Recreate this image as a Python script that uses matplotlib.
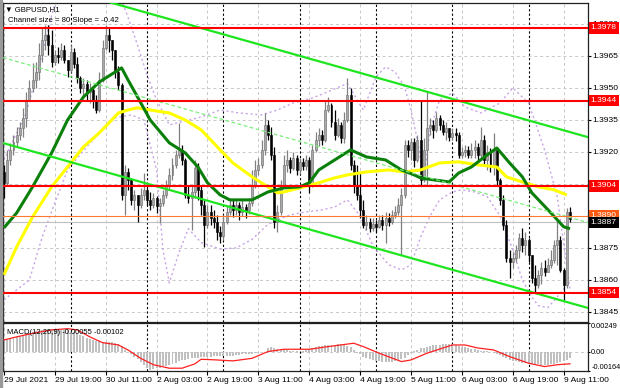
import numpy as np
import matplotlib
matplotlib.use("Agg")
from matplotlib import pyplot as plt
from matplotlib.patches import Rectangle

# ---- data ----
symbol = "GBPUSD,H1"
channel_size = 80          # pips
channel_slope = -0.42      # pips per bar
channel_mid0 = 1.39640     # middle line at the first bar

levels_red = [1.3978, 1.3944, 1.3904, 1.3854]
level_orange = 1.3890
bid = 1.3887

first_open = 1.39106
closes = [
    1.39055, 1.39162, 1.39209, 1.39246, 1.39279, 1.39312, 1.39359, 1.39443, 1.39499, 1.39537,
    1.39574, 1.39654, 1.39724, 1.39747, 1.39700, 1.39621, 1.39654, 1.39644, 1.39677, 1.39630,
    1.39583, 1.39668, 1.39612, 1.39546, 1.39499, 1.39518, 1.39480, 1.39490, 1.39443, 1.39396,
    1.39537, 1.39686, 1.39747, 1.39724, 1.39677, 1.39574, 1.39513, 1.38998, 1.39106, 1.39069,
    1.38975, 1.38998, 1.38952, 1.38998, 1.39022, 1.38975, 1.38952, 1.38984, 1.38947, 1.38961,
    1.38998, 1.39045, 1.39092, 1.39139, 1.39186, 1.39209, 1.39162, 1.38998, 1.38984, 1.39012,
    1.39125, 1.39022, 1.38952, 1.38858, 1.38919, 1.38891, 1.38872, 1.38825, 1.38807, 1.38872,
    1.38919, 1.38952, 1.38928, 1.38952, 1.38919, 1.38942, 1.38928, 1.38961, 1.39045, 1.39115,
    1.39139, 1.39209, 1.39326, 1.39279, 1.39186, 1.38872, 1.38919, 1.39045, 1.39139, 1.39162,
    1.39125, 1.39172, 1.39115, 1.39153, 1.39134, 1.39162, 1.39045, 1.39209, 1.39256, 1.39279,
    1.39256, 1.39396, 1.39420, 1.39340, 1.39279, 1.39326, 1.39265, 1.39349, 1.39466, 1.39139,
    1.39045, 1.38998, 1.38928, 1.38858, 1.38872, 1.38844, 1.38863, 1.38849, 1.38881, 1.38858,
    1.38891, 1.38872, 1.38905, 1.38919, 1.38952, 1.38998, 1.39232, 1.39209, 1.39246, 1.39162,
    1.39256, 1.39069, 1.39209, 1.39312, 1.39326, 1.39303, 1.39359, 1.39326, 1.39293, 1.39312,
    1.39270, 1.39289, 1.39279, 1.39186, 1.39200, 1.39209, 1.39186, 1.39209, 1.39223, 1.39186,
    1.39256, 1.39162, 1.39200, 1.39139, 1.39209, 1.39069, 1.38975, 1.38858, 1.38704, 1.38685,
    1.38704, 1.38741, 1.38797, 1.38764, 1.38788, 1.38718, 1.38610, 1.38577, 1.38624, 1.38657,
    1.38638, 1.38671, 1.38694, 1.38764, 1.38788, 1.38647, 1.38577, 1.38919, 1.38886,
]
highs = [
    1.39139, 1.39209, 1.39242, 1.39279, 1.39317, 1.39340, 1.39406, 1.39480, 1.39537, 1.39616,
    1.39621, 1.39710, 1.39780, 1.39794, 1.39794, 1.39771, 1.39677, 1.39691, 1.39710, 1.39700,
    1.39621, 1.39700, 1.39686, 1.39644, 1.39555, 1.39546, 1.39537, 1.39523, 1.39499, 1.39466,
    1.39574, 1.39724, 1.39794, 1.39785, 1.39714, 1.39677, 1.39602, 1.39523, 1.39139, 1.39125,
    1.39078, 1.39022, 1.38998, 1.39031, 1.39101, 1.39031, 1.39012, 1.39008, 1.38994, 1.38984,
    1.39022, 1.39069, 1.39125, 1.39172, 1.39209, 1.39335, 1.39232, 1.39172, 1.39045, 1.39045,
    1.39162, 1.39148, 1.39045, 1.38975, 1.38952, 1.38952, 1.38928, 1.38905, 1.38853, 1.38905,
    1.38952, 1.38984, 1.38975, 1.38975, 1.38966, 1.38975, 1.38956, 1.38984, 1.39115, 1.39162,
    1.39172, 1.39256, 1.39382, 1.39349, 1.39317, 1.39223, 1.38952, 1.39069, 1.39186, 1.39209,
    1.39176, 1.39200, 1.39186, 1.39172, 1.39172, 1.39186, 1.39176, 1.39232, 1.39293, 1.39312,
    1.39303, 1.39443, 1.39457, 1.39429, 1.39396, 1.39359, 1.39340, 1.39387, 1.39546, 1.39499,
    1.39162, 1.39139, 1.39106, 1.38975, 1.38905, 1.38891, 1.38891, 1.38881, 1.38905, 1.38905,
    1.38919, 1.38914, 1.38928, 1.38947, 1.38984, 1.39031, 1.39256, 1.39256, 1.39265, 1.39265,
    1.39279, 1.39443, 1.39265, 1.39480, 1.39359, 1.39349, 1.39387, 1.39373, 1.39349, 1.39340,
    1.39312, 1.39312, 1.39312, 1.39293, 1.39223, 1.39232, 1.39228, 1.39242, 1.39256, 1.39242,
    1.39317, 1.39279, 1.39232, 1.39218, 1.39289, 1.39218, 1.39078, 1.38998, 1.38881, 1.38741,
    1.38732, 1.38764, 1.38821, 1.38844, 1.38825, 1.38797, 1.38718, 1.38671, 1.38647, 1.38685,
    1.38694, 1.38704, 1.38741, 1.38788, 1.38881, 1.38807, 1.38657, 1.38938, 1.38942,
]
lows = [
    1.38984, 1.39045, 1.39139, 1.39186, 1.39223, 1.39256, 1.39270, 1.39317, 1.39443, 1.39480,
    1.39499, 1.39537, 1.39621, 1.39677, 1.39654, 1.39597, 1.39607, 1.39616, 1.39630, 1.39616,
    1.39551, 1.39574, 1.39593, 1.39523, 1.39476, 1.39457, 1.39443, 1.39429, 1.39406, 1.39382,
    1.39387, 1.39527, 1.39677, 1.39668, 1.39630, 1.39546, 1.39490, 1.38975, 1.38905, 1.39022,
    1.38952, 1.38928, 1.38872, 1.38938, 1.38975, 1.38952, 1.38928, 1.38938, 1.38914, 1.38867,
    1.38947, 1.38984, 1.39022, 1.39069, 1.39125, 1.39172, 1.39139, 1.38984, 1.38961, 1.38835,
    1.38984, 1.38975, 1.38905, 1.38755, 1.38844, 1.38858, 1.38844, 1.38788, 1.38774, 1.38788,
    1.38863, 1.38905, 1.38895, 1.38905, 1.38881, 1.38900, 1.38891, 1.38910, 1.38947, 1.39031,
    1.39092, 1.39125, 1.39186, 1.39256, 1.39162, 1.38844, 1.38825, 1.38905, 1.39031, 1.39106,
    1.39101, 1.39115, 1.39092, 1.39097, 1.39115, 1.39115, 1.39008, 1.39036, 1.39200, 1.39228,
    1.39232, 1.39246, 1.39387, 1.39317, 1.39256, 1.39270, 1.39242, 1.39242, 1.39340, 1.39115,
    1.39008, 1.38975, 1.38891, 1.38844, 1.38835, 1.38825, 1.38830, 1.38825, 1.38844, 1.38835,
    1.38774, 1.38853, 1.38863, 1.38891, 1.38905, 1.38718, 1.38984, 1.39176, 1.39162, 1.39129,
    1.39153, 1.39045, 1.39059, 1.39045, 1.39279, 1.39265, 1.39293, 1.39303, 1.39279, 1.39256,
    1.39251, 1.39256, 1.39251, 1.39172, 1.39172, 1.39176, 1.39172, 1.39172, 1.39172, 1.39153,
    1.39172, 1.39139, 1.39115, 1.39106, 1.39092, 1.39045, 1.38952, 1.38834, 1.38685, 1.38610,
    1.38657, 1.38685, 1.38704, 1.38732, 1.38718, 1.38685, 1.38587, 1.38544, 1.38563, 1.38582,
    1.38619, 1.38647, 1.38657, 1.38680, 1.38671, 1.38638, 1.38507, 1.38563, 1.38872,
]

# moving averages (bar index, price)
ma_green_idx = [0, 4, 9, 15, 20, 25, 30, 35, 37, 39, 42, 46, 52, 57, 61, 64, 68, 71, 74, 78, 83,
                88, 93, 96, 99, 104, 109, 114, 120, 125, 129, 131, 135, 140, 143, 147, 152, 155,
                159, 163, 166, 172, 176, 178]
ma_green_val = [1.38844, 1.38914, 1.39036, 1.39195, 1.39349, 1.39457, 1.39527, 1.39574, 1.39593,
                1.39537, 1.39457, 1.39349, 1.39242, 1.39195, 1.39129, 1.39055, 1.38998, 1.38975,
                1.38975, 1.38975, 1.39012, 1.39031, 1.39036, 1.39055, 1.39115, 1.39162, 1.39209,
                1.39176, 1.39162, 1.39115, 1.39092, 1.39078, 1.39069, 1.39059, 1.39101, 1.39129,
                1.39186, 1.39218, 1.39148, 1.39083, 1.39008, 1.38914, 1.38849, 1.38840]
ma_yellow_idx = [0, 4, 9, 15, 20, 25, 30, 36, 39, 42, 46, 52, 57, 62, 68, 72, 78, 83, 86, 88, 93,
                 99, 104, 108, 114, 121, 126, 131, 137, 143, 149, 155, 158, 163, 168, 173, 177]
ma_yellow_val = [1.38624, 1.38755, 1.38895, 1.39036, 1.39129, 1.39223, 1.39289, 1.39382, 1.39396,
                 1.39406, 1.39396, 1.39382, 1.39349, 1.39303, 1.39209, 1.39148, 1.39083, 1.39036,
                 1.39008, 1.39012, 1.39031, 1.39055, 1.39078, 1.39092, 1.39106, 1.39115, 1.39106,
                 1.39115, 1.39148, 1.39153, 1.39139, 1.39129, 1.39083, 1.39059, 1.39036, 1.39022,
                 1.38998]

# dotted bands (bar index, price)
band_up_idx = [0, 7, 12, 15, 18, 35, 39, 42, 45, 48, 52, 62, 68, 74, 81, 86, 91, 97, 101, 108,
               113, 117, 120, 123, 126, 128, 130, 132, 134, 137, 141, 145, 150, 156, 160, 165,
               170, 174, 178]
band_up_val = [1.39162, 1.39382, 1.39654, 1.39841, 1.39990, 1.39990, 1.39831, 1.39700, 1.39560,
               1.39443, 1.39326, 1.39363, 1.39396, 1.39382, 1.39373, 1.39396, 1.39429, 1.39452,
               1.39476, 1.39520, 1.39396, 1.39551, 1.39598, 1.39574, 1.39504, 1.39396, 1.39256,
               1.39069, 1.39303, 1.39443, 1.39476, 1.39410, 1.39382, 1.39429, 1.39499, 1.39429,
               1.39209, 1.38989, 1.38554]
band_dn_idx = [0, 8, 12, 16, 20, 26, 31, 35, 40, 44, 48, 50, 52, 55, 58, 62, 68, 73, 78, 83, 89,
               93, 100, 104, 108, 112, 116, 121, 125, 128, 131, 134, 137, 141, 144, 148, 152,
               156, 160, 163, 166, 168, 171, 174, 177]
band_dn_val = [1.38507, 1.38600, 1.38800, 1.38961, 1.39115, 1.39223, 1.39303, 1.39359, 1.39373,
               1.39349, 1.39115, 1.38741, 1.38586, 1.38727, 1.38840, 1.38775, 1.38745, 1.38750,
               1.38790, 1.38860, 1.38900, 1.38914, 1.38928, 1.38942, 1.38975, 1.38900, 1.38760,
               1.38671, 1.38647, 1.38671, 1.38800, 1.38900, 1.38975, 1.39012, 1.39022, 1.39012,
               1.38990, 1.38900, 1.38741, 1.38600, 1.38520, 1.38480, 1.38470, 1.38520, 1.38577]

# MACD(12,26,9): histogram per bar and signal line points
macd_hist = [
    103, 110, 117, 124, 132, 140, 148, 157, 166, 175,
    180, 184, 188, 191, 194, 195, 195, 194, 193, 191,
    190, 182, 173, 163, 150, 135, 120, 110, 100, 93,
    90, 89, 89, 88, 88, 75, 65, 55, 17, 0,
    -20, -40, -65, -90, -112, -135, -155, -150, -142, -135,
    -125, -118, -110, -100, -92, -82, -72, -66, -60, -55,
    -50, -48, -46, -44, -42, -40, -37, -34, -33, -32,
    -32, -31, -31, -28, -25, -22, -20, -18, -17, -12,
    -8, -2, 3, 32, 46, 38, 25, 20, 17, 14,
    10, 7, 5, 3, 8, 15, 28, 35, 42, 48,
    52, 56, 60, 62, 64, 65, 66, 66, 55, 40,
    17, -5, -22, -40, -52, -63, -72, -80, -82, -83,
    -84, -84, -83, -78, -70, -60, -55, -30, -5, 8,
    20, 30, 38, 45, 51, 56, 60, 63, 66, 68,
    69, 66, 60, 53, 46, 40, 34, 28, 22, 17,
    12, 7, 5, 3, -8, -18, -26, -40, -55, -69,
    -75, -82, -87, -91, -95, -97, -101, -105, -108, -110,
    -112, -110, -106, -102, -97, -90, -80, -70, -55,
]  # in 1e-5
signal_idx = [0, 4, 9, 15, 20, 23, 27, 31, 36, 39, 43, 47, 52, 56, 60, 62, 67, 72, 78, 83, 88,
              96, 102, 110, 113, 118, 125, 128, 133, 141, 145, 149, 154, 159, 165, 170, 174, 178]
signal_val = [103, 130, 160, 190, 200, 190, 130, 80, 60, 17, -55, -110, -140, -140, -103, -63,
              -69, -77, -55, 3, 23, 23, 46, 75, 46, -11, -83, -69, -11, 60, 60, 34, 17, -40,
              -97, -126, -110, -102]
macd_top, macd_bottom = 0.00249, -0.00164

price_ticks = [1.3845, 1.3860, 1.3875, 1.3890, 1.3905, 1.3920, 1.3935, 1.3950, 1.3965, 1.3980]
hidden_ticks = [1.3890, 1.3905]   # covered by the level tags
date_idx = [0, 16, 32, 48, 64, 80, 96, 112, 128, 144, 160, 176]
date_labels = ["29 Jul 2021", "29 Jul 19:00", "30 Jul 11:00", "2 Aug 03:00", "2 Aug 19:00",
               "3 Aug 11:00", "4 Aug 03:00", "4 Aug 19:00", "5 Aug 11:00", "6 Aug 03:00",
               "6 Aug 19:00", "9 Aug 11:00"]
day_breaks = [21, 45, 69, 93, 117, 141, 165]

# ---- drawing ----
plt.rcParams['font.family'] = ['Liberation Sans', 'DejaVu Sans']
FS = 6.1
W, H = 620, 388
fig = plt.figure(figsize=(W / 100, H / 100), dpi=100)
ax = fig.add_axes([3 / W, 66 / H, 585 / W, 319 / H])
axm = fig.add_axes([3 / W, 17 / H, 585 / W, 48 / H])
fig.patches.append(Rectangle((0, 0), 2 / W, 1, transform=fig.transFigure,
                             color='#9a9a9a', zorder=0))

xlim = (-0.3, 183.66)
for a in (ax, axm):
    a.set_xlim(*xlim)
    for s in a.spines.values():
        s.set_color('#202020')
        s.set_linewidth(0.9)
ax.set_ylim(1.38403, 1.39897)
axm.set_ylim(macd_bottom, macd_top)

grid_kw = dict(color='#c8c8c8', lw=0.7, ls=(0, (3, 3)), zorder=0)
for p in price_ticks:
    ax.axhline(p, **grid_kw)
for i in date_idx:
    ax.axvline(i, **grid_kw)
    axm.axvline(i, **grid_kw)
axm.axhline(0, **grid_kw)
for i in day_breaks:
    ax.axvline(i, color='#000000', lw=0.8, ls=(0, (2, 2)), zorder=0.5)
    axm.axvline(i, color='#000000', lw=0.8, ls=(0, (2, 2)), zorder=0.5)

# candles
c = np.array(closes)
o = np.r_[first_open, c[:-1]]
hi = np.maximum(np.array(highs), np.maximum(o, c))
lo = np.minimum(np.array(lows), np.minimum(o, c))
idx = np.arange(len(c))
up = c >= o
wick_col = np.where(up, '#808080', '#000000')
body_col = np.where(up, '#a8a8a8', '#000000')
edge_col = np.where(up, '#6a6a6a', '#000000')
ax.vlines(idx, lo, hi, colors=wick_col, lw=0.9, zorder=3)
ax.bar(idx, np.maximum(np.abs(c - o), 0.00002), bottom=np.minimum(o, c), width=0.62,
       color=body_col, edgecolor=edge_col, lw=0.4, zorder=4)

# bands and moving averages
band_col = '#c9a3e6'
ax.plot(band_up_idx, band_up_val, color=band_col, lw=1.0, ls=(0, (1.5, 2)), zorder=2)
ax.plot(band_dn_idx, band_dn_val, color=band_col, lw=1.0, ls=(0, (1.5, 2)), zorder=2)
ax.plot(ma_yellow_idx, ma_yellow_val, color='#ffff00', lw=2.2, zorder=5, solid_capstyle='butt')
ax.plot(ma_green_idx, ma_green_val, color='#0a800a', lw=2.2, zorder=5, solid_capstyle='butt')

# regression channel
xs = np.array(xlim)
mid = channel_mid0 + channel_slope * 1e-4 * xs
half = channel_size / 2 * 1e-4
ax.plot(xs, mid + half, color='#1ee61e', lw=1.6, zorder=6)
ax.plot(xs, mid - half, color='#1ee61e', lw=1.6, zorder=6)
ax.plot(xs, mid, color='#7bee7b', lw=0.9, ls=(0, (3, 2)), zorder=6)

# horizontal levels
for lv in levels_red:
    ax.axhline(lv, color='#ff0000', lw=1.5, zorder=7)
ax.axhline(level_orange, color='#ff7a30', lw=0.8, zorder=7)
ax.axhline(bid, color='#c0c0c0', lw=0.8, zorder=2)

# price scale
ax.yaxis.tick_right()
ax.set_yticks(price_ticks)
ax.set_yticklabels(["" if p in hidden_ticks else f"{p:.4f}" for p in price_ticks])
ax.tick_params(axis='y', length=2, pad=1.2, labelsize=FS, colors='#000000')
ax.set_xticks([])

def price_tag(a, val, text, face):
    a.annotate(text, xy=(1, val), xycoords=a.get_yaxis_transform(), xytext=(2.0, 0),
               textcoords='offset points', ha='left', va='center', fontsize=FS,
               color='white', zorder=20, annotation_clip=False,
               bbox=dict(boxstyle='square,pad=0.24', fc=face, ec='none'))

for lv in levels_red:
    price_tag(ax, lv, f"{lv:.4f}", '#ff0000')
price_tag(ax, level_orange, f"{level_orange:.4f}", '#ff5a10')
price_tag(ax, bid, f"{bid:.4f}", '#000000')

ax.text(0.004, 0.992, "\u25bc " + symbol, transform=ax.transAxes, ha='left', va='top',
        fontsize=5.6, color='#000000', zorder=20)
ax.text(0.009, 0.955, f"Channel size = {channel_size} Slope = {channel_slope:.2f}",
        transform=ax.transAxes, ha='left', va='top', fontsize=5.6, color='#000000', zorder=20)

# MACD panel
hist = np.array(macd_hist) * 1e-5
axm.bar(np.arange(len(hist)), hist, width=0.62, color='#c0c0c0', zorder=2)
axm.plot(signal_idx, np.array(signal_val) * 1e-5, color='#ff2020', lw=0.9, zorder=3)
axm.text(0.006, 0.88, f"MACD(12,26,9) {macd_hist[-1] * 1e-5:.5f} {signal_val[-1] * 1e-5:.5f}",
         transform=axm.transAxes, ha='left', va='top', fontsize=5.5, zorder=20)
axm.yaxis.tick_right()
axm.set_yticks([macd_top, 0, macd_bottom])
axm.set_yticklabels(["0.00249", "0.00", "-0.00164"])
axm.tick_params(axis='y', length=1.5, pad=0.8, labelsize=5.3)
ylabs = axm.get_yticklabels()
ylabs[0].set_va('top')
ylabs[2].set_va('bottom')

axm.set_xticks(date_idx)
axm.set_xticklabels(date_labels)
axm.tick_params(axis='x', length=3, pad=1.5, labelsize=FS)
for lab in axm.get_xticklabels():
    lab.set_ha('left')

fig.savefig("out.png", dpi=100, facecolor='white')
